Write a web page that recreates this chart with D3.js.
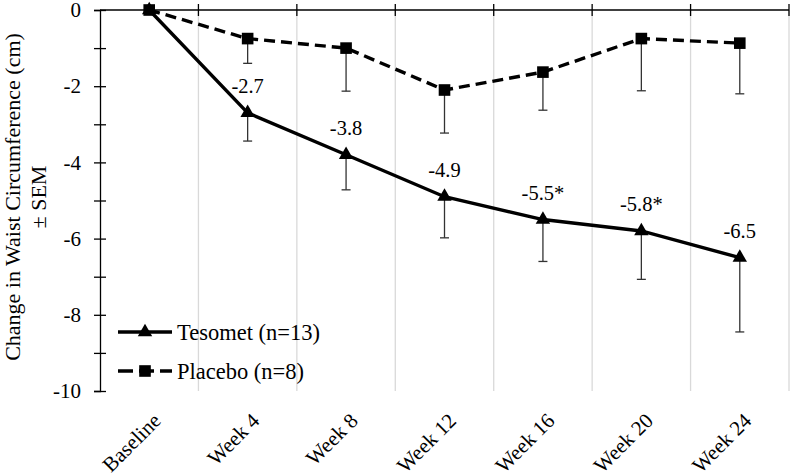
<!DOCTYPE html>
<html>
<head>
<meta charset="utf-8">
<script src="https://cdn.jsdelivr.net/npm/d3@7"></script>
<style>
  html, body { margin: 0; padding: 0; background: #fff; }
  svg { display: block; }
</style>
</head>
<body>
<svg id="chart" width="793" height="475"></svg>
<script>
const categories = ["Baseline", "Week 4", "Week 8", "Week 12", "Week 16", "Week 20", "Week 24"];
const tesometValues = [0, -2.7, -3.8, -4.9, -5.5, -5.8, -6.5];
const tesometSEM = [0, 0.74, 0.92, 1.08, 1.1, 1.27, 1.95];
const tesometLabels = ["", "-2.7", "-3.8", "-4.9", "-5.5*", "-5.8*", "-6.5"];
const placeboValues = [0, -0.75, -1.0, -2.1, -1.63, -0.75, -0.87];
const placeboSEM = [0, 0.65, 1.13, 1.13, 1.0, 1.37, 1.33];
const yTicks = [0, -1, -2, -3, -4, -5, -6, -7, -8, -9, -10];
const yDomain = [-10, 0];
const seriesNames = ["Tesomet (n=13)", "Placebo (n=8)"];

(function () {
const FONT = "'Liberation Serif', 'Times New Roman', serif";
const svg = d3.select("#chart");
const mLeft = 100, mRight = 789, mTop = 10, mBottom = 391;

const x = d3.scaleBand().domain(categories).range([mLeft, mRight]).padding(0);
const y = d3.scaleLinear().domain(yDomain).range([mBottom, mTop]);
const cx = c => x(c) + x.bandwidth() / 2;

// gridlines at category boundaries
svg.append("g").selectAll("line")
  .data(categories)
  .join("line")
  .attr("x1", d => x(d) + x.bandwidth())
  .attr("x2", d => x(d) + x.bandwidth())
  .attr("y1", mTop).attr("y2", mBottom)
  .attr("stroke", "#d9d9d9").attr("stroke-width", 1.3);

// top axis line with crossing ticks at category boundaries
const topAxis = svg.append("g");
topAxis.append("line")
  .attr("x1", mLeft).attr("x2", mRight).attr("y1", y(0)).attr("y2", y(0))
  .attr("stroke", "#000").attr("stroke-width", 1.3);
topAxis.selectAll("line.tick")
  .data(categories)
  .join("line").attr("class", "tick")
  .attr("x1", d => x(d) + x.bandwidth())
  .attr("x2", d => x(d) + x.bandwidth())
  .attr("y1", y(0) - 6).attr("y2", y(0) + 6)
  .attr("stroke", "#000").attr("stroke-width", 1.3);

// y axis
const yAxis = svg.append("g")
  .attr("transform", `translate(${mLeft},0)`)
  .call(d3.axisLeft(y).tickValues(yTicks).tickSize(6).tickPadding(13)
    .tickFormat(d => (d % 2 === 0 ? String(d) : "")));
yAxis.attr("font-family", FONT).attr("font-size", 21);
yAxis.select(".domain").attr("stroke", "#000").attr("stroke-width", 1.3);
yAxis.selectAll(".tick line").attr("x1", 6).attr("stroke", "#000").attr("stroke-width", 1.3);
yAxis.selectAll(".tick text").attr("fill", "#000");

// x axis labels (rotated)
const xAxis = svg.append("g")
  .attr("transform", `translate(0,${mBottom})`)
  .call(d3.axisBottom(x).tickSize(0));
xAxis.attr("font-family", FONT).attr("font-size", 21);
xAxis.select(".domain").remove();
xAxis.selectAll(".tick text")
  .attr("x", 0).attr("y", 0).attr("dy", 0)
  .attr("text-anchor", "end")
  .attr("transform", "translate(13,31) rotate(-45)")
  .attr("fill", "#000");

// y axis title
const title = svg.append("text")
  .attr("transform", `translate(12,197) rotate(-90)`)
  .attr("text-anchor", "middle")
  .attr("font-family", FONT).attr("font-size", 22);
title.append("tspan").attr("x", 0).attr("dy", "0.35em").text("Change in Waist Circumference  (cm)");
title.append("tspan").attr("x", 0).attr("dy", 26).text("\u00B1 SEM");

// error bars
function errorBars(values, sems) {
  const g = svg.append("g").attr("stroke", "#333").attr("stroke-width", 1.3);
  categories.forEach((c, i) => {
    if (!sems[i]) return;
    g.append("line").attr("x1", cx(c)).attr("x2", cx(c))
      .attr("y1", y(values[i])).attr("y2", y(values[i] - sems[i]));
    g.append("line").attr("x1", cx(c) - 4.5).attr("x2", cx(c) + 4.5)
      .attr("y1", y(values[i] - sems[i])).attr("y2", y(values[i] - sems[i]));
  });
}
errorBars(placeboValues, placeboSEM);
errorBars(tesometValues, tesometSEM);

const line = d3.line().x((d, i) => cx(categories[i])).y(d => y(d));

svg.append("path").datum(placeboValues)
  .attr("d", line).attr("fill", "none").attr("stroke", "#000")
  .attr("stroke-width", 3.4).attr("stroke-dasharray", "11,6");
svg.append("path").datum(tesometValues)
  .attr("d", line).attr("fill", "none").attr("stroke", "#000")
  .attr("stroke-width", 3.4);

const tri = d3.symbol().type(d3.symbolTriangle).size(90);
const sq = d3.symbol().type(d3.symbolSquare).size(135);

svg.append("g").selectAll("path")
  .data(placeboValues).join("path")
  .attr("d", sq)
  .attr("transform", (d, i) => `translate(${cx(categories[i])},${y(d)})`)
  .attr("fill", "#000");
svg.append("g").selectAll("path")
  .data(tesometValues).join("path")
  .attr("d", tri)
  .attr("transform", (d, i) => `translate(${cx(categories[i])},${y(d)})`)
  .attr("fill", "#000");

// data labels
svg.append("g").attr("font-family", FONT).attr("font-size", 20.5)
  .selectAll("text")
  .data(tesometValues).join("text")
  .attr("x", (d, i) => cx(categories[i]))
  .attr("y", d => y(d) - 20)
  .attr("text-anchor", "middle")
  .attr("fill", "#000")
  .text((d, i) => tesometLabels[i]);

// legend
const legend = svg.append("g");
const legY = [332, 371];
legend.append("line").attr("x1", 118).attr("x2", 172).attr("y1", legY[0]).attr("y2", legY[0])
  .attr("stroke", "#000").attr("stroke-width", 3.4);
legend.append("path").attr("d", tri).attr("transform", `translate(145,${legY[0]})`).attr("fill", "#000");
legend.append("line").attr("x1", 118).attr("x2", 172).attr("y1", legY[1]).attr("y2", legY[1])
  .attr("stroke", "#000").attr("stroke-width", 3.4).attr("stroke-dasharray", "15,6");
legend.append("path").attr("d", sq).attr("transform", `translate(145,${legY[1]})`).attr("fill", "#000");
legend.append("g").attr("font-family", FONT).attr("font-size", 22.5)
  .selectAll("text").data(seriesNames).join("text")
  .attr("x", 177).attr("y", (d, i) => legY[i]).attr("dy", "0.35em")
  .attr("fill", "#000")
  .text(d => d);
})();
</script>
</body>
</html>
